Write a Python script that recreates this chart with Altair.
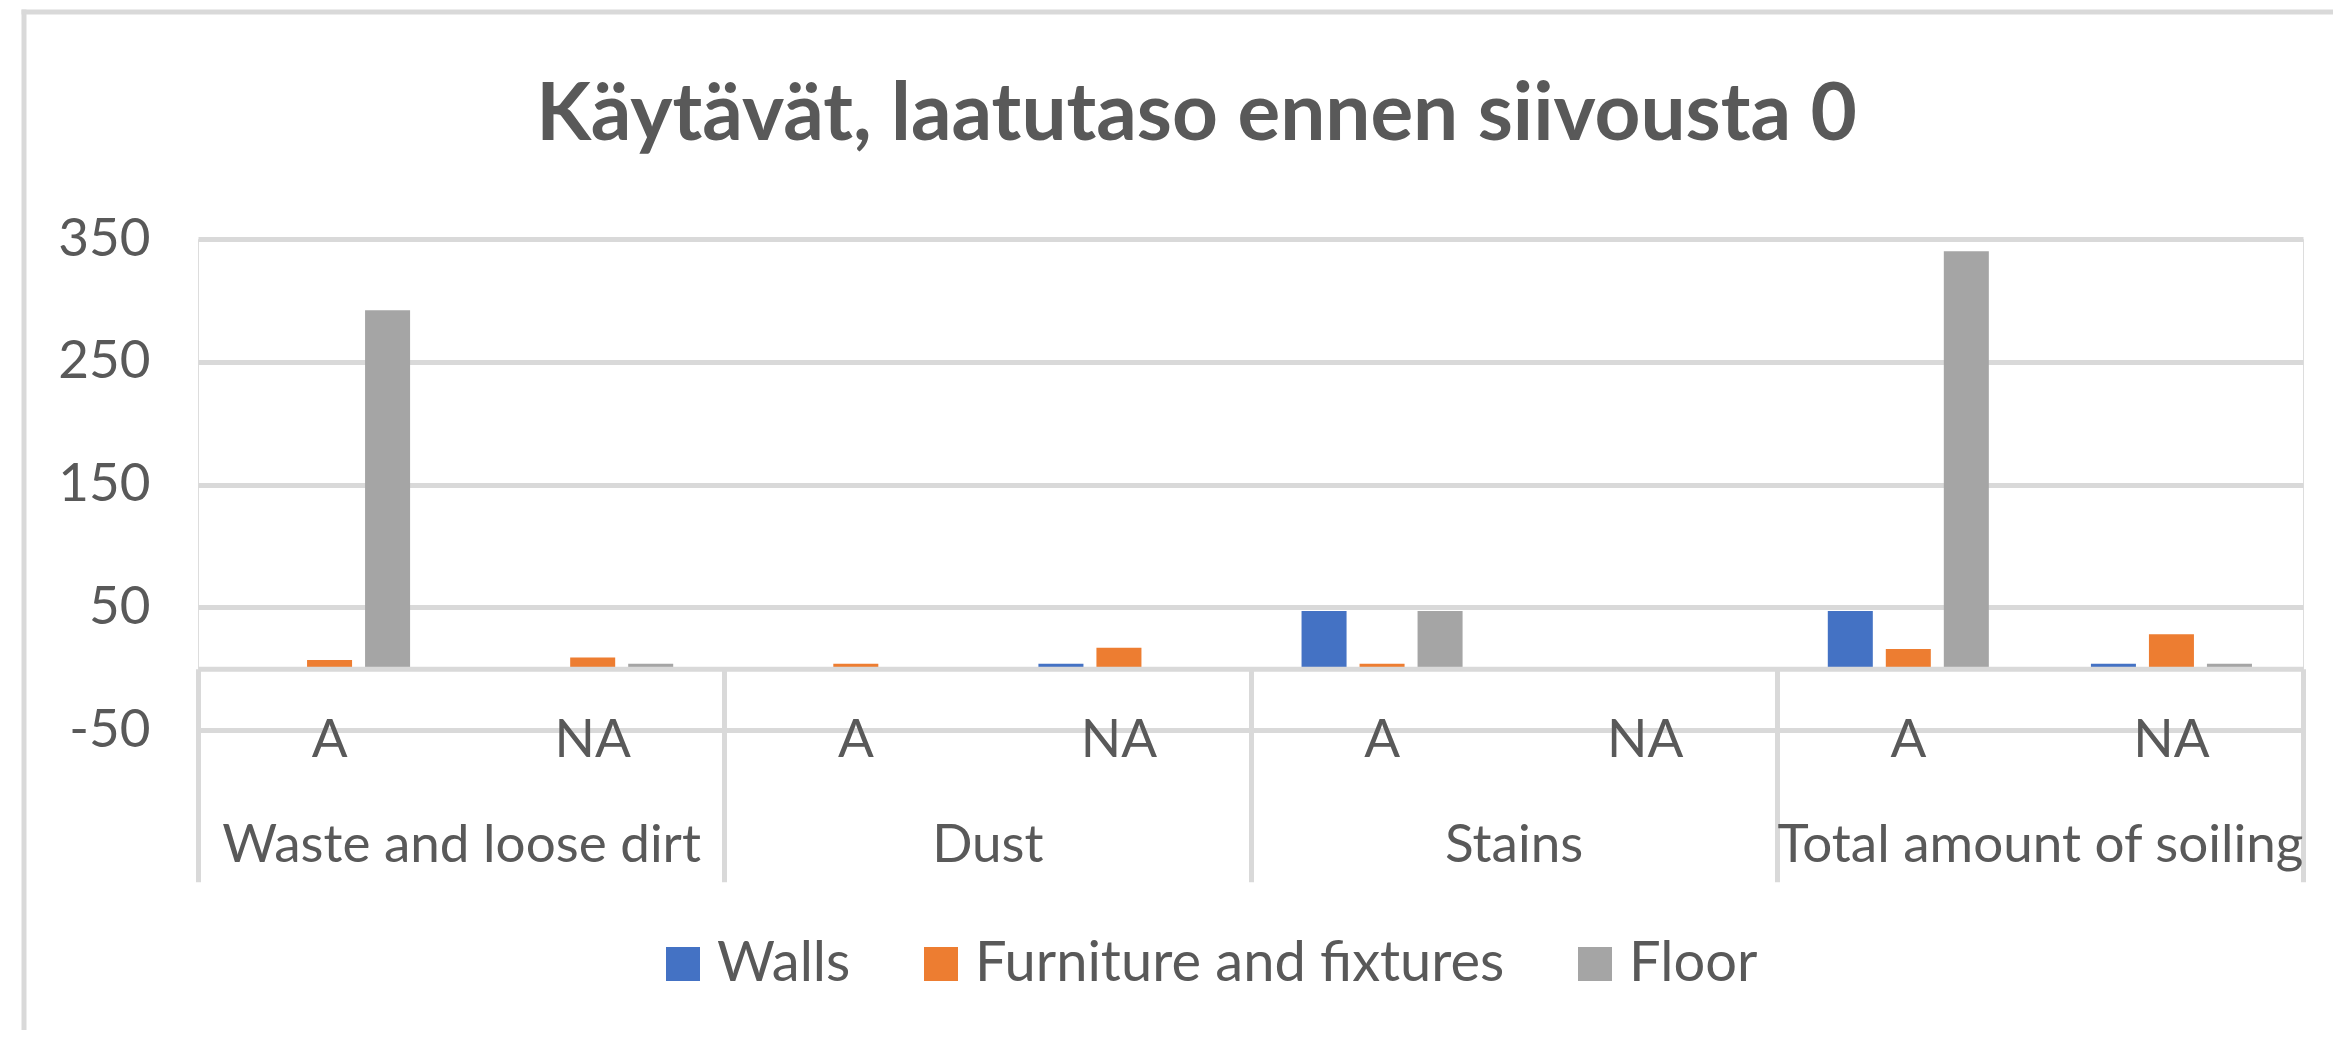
import altair as alt
import pandas as pd

# ---- data ----
groups = ["Waste and loose dirt", "Dust", "Stains", "Total amount of soiling"]
levels = ["A", "NA"]
series = ["Walls", "Furniture and fixtures", "Floor"]
colors = ["#4472C4", "#ED7D31", "#A5A5A5"]

walls = [0, 0, 0, 4, 47, 0, 47, 4]
furniture = [7, 9, 4, 17, 4, 0, 16, 28]
floor = [292, 4, 0, 0, 47, 0, 340, 4]

y_ticks = [-50, 50, 150, 250, 350]
y_domain = [-50, 350]
title_text = "Käytävät, laatutaso ennen siivousta 0"

subs = [f"{g}|{l}" for g in groups for l in levels]
rows = []
for name, vals in zip(series, [walls, furniture, floor]):
    for s, v in zip(subs, vals):
        rows.append({"sub": s, "group": s.split("|")[0], "series": name, "value": v})
df = pd.DataFrame(rows)
group_df = pd.DataFrame({"group": groups})
one = pd.DataFrame({"k": [0]})

# ---- style ----
W, H = 2105, 491
FONT = "Lato"
TXT = "#595959"
GRID = "#D9D9D9"
LW = 5
FS = 53

bars = alt.Chart(df).mark_bar().encode(
    x=alt.X("sub:N", sort=subs, title=None,
            scale=alt.Scale(paddingInner=0.388, paddingOuter=0.194),
            axis=alt.Axis(orient="bottom", labelExpr="split(datum.value, '|')[1]", labelAngle=0,
                          ticks=False, domain=False, grid=False, labelFont=FONT, labelFontSize=FS,
                          labelColor=TXT, labelBaseline="middle", labelPadding=10, labelLimit=1000)),
    xOffset=alt.XOffset("series:N", sort=series,
                        scale=alt.Scale(paddingInner=0.224, paddingOuter=0)),
    y=alt.Y("value:Q", title=None,
            scale=alt.Scale(domain=y_domain, nice=False, zero=False),
            axis=alt.Axis(values=y_ticks, domain=False, ticks=False, grid=True,
                          gridColor=GRID, gridWidth=LW, labelFont=FONT, labelFontSize=FS,
                          labelColor=TXT, labelPadding=48, labelExpr="'' + datum.value")),
    color=alt.Color("series:N", sort=series,
                    scale=alt.Scale(domain=series, range=colors),
                    legend=alt.Legend(orient="none", direction="horizontal", legendX=457, legendY=697,
                                      title=None, symbolType="square", symbolSize=1156,
                                      symbolStrokeWidth=0, labelFont=FONT, labelFontSize=56,
                                      labelColor=TXT, labelOffset=6, columnPadding=62,
                                      labelLimit=1000)),
)

group_layer = alt.Chart(group_df).mark_point(opacity=0).encode(
    x=alt.X("group:N", sort=groups, title=None,
            scale=alt.Scale(paddingInner=0, paddingOuter=0),
            axis=alt.Axis(orient="bottom", offset=-H * 50 / 400, tickBand="extent", tickSize=213,
                          tickWidth=LW, tickColor=GRID, domainColor=GRID, domainWidth=LW,
                          labelAngle=0, labelFont=FONT, labelFontSize=FS, labelColor=TXT,
                          labelBaseline="middle", labelPadding=-36, grid=False, zindex=1,
                          labelLimit=1000)),
    y=alt.datum(0),
)

left_border = alt.Chart(one).mark_rule(color=GRID, strokeWidth=LW).encode(
    x=alt.value(-174), y=alt.value(-229.5), y2=alt.value(830))
top_border = alt.Chart(one).mark_rule(color=GRID, strokeWidth=LW).encode(
    x=alt.value(-176.5), x2=alt.value(2200), y=alt.value(-227))

chart = alt.layer(bars, group_layer, left_border, top_border).resolve_scale(
    x="independent").resolve_axis(x="independent").properties(
    width=W, height=H,
    title=alt.TitleParams(title_text, font=FONT, fontSize=80, fontWeight="bold", color=TXT,
                          anchor="middle", frame="group", baseline="middle", offset=-189, dx=-54),
    autosize=alt.AutoSizeParams(type="none"),
    padding={"left": 190, "top": 231, "right": 30, "bottom": 300},
).configure_view(stroke=None).configure(background="white")

chart.save("out.html", embed_options={"renderer": "svg", "actions": False})
